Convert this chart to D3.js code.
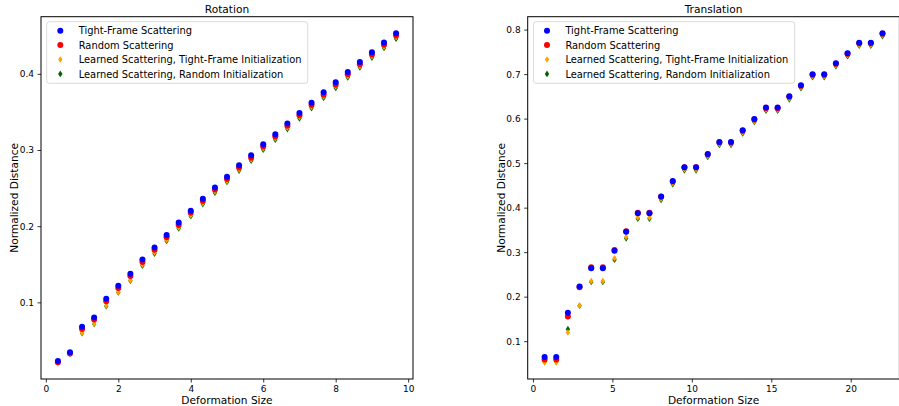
<!DOCTYPE html>
<html>
<head>
<meta charset="utf-8">
<script src="https://cdn.jsdelivr.net/npm/d3@7"></script>
<style>
  body { margin: 0; background: #fff; }
  svg { display: block; font-family: "DejaVu Sans", sans-serif; }
</style>
</head>
<body>
<div id="chart"></div>
<script>
// Rotation panel
const rotX = d3.range(1, 30).map(k => k / 3);
const rotTight = [0.023, 0.0346, 0.068, 0.080, 0.1047, 0.1217, 0.1374, 0.1563, 0.172, 0.1885,
  0.2047, 0.2204, 0.236, 0.2509, 0.265, 0.280, 0.293, 0.3076, 0.3207, 0.3347,
  0.3487, 0.3622, 0.3757, 0.3888, 0.4024, 0.4155, 0.4285, 0.4411, 0.4534];
const rotRandom = [0.0215, 0.033, 0.065, 0.0775, 0.1015, 0.119, 0.1345, 0.153, 0.169, 0.1855,
  0.2015, 0.2175, 0.233, 0.248, 0.262, 0.277, 0.290, 0.3046, 0.3177, 0.3317,
  0.3457, 0.3592, 0.3727, 0.3858, 0.3994, 0.4125, 0.4255, 0.4381, 0.4504];
const rotLearnedTF = [0.0215, 0.033, 0.060, 0.072, 0.0955, 0.1135, 0.129, 0.1495, 0.1655, 0.182,
  0.1985, 0.2145, 0.2305, 0.2455, 0.2595, 0.2745, 0.2875, 0.3022, 0.3153, 0.3293,
  0.3433, 0.3568, 0.3703, 0.3834, 0.397, 0.4101, 0.4231, 0.4357, 0.448];
const rotLearnedRand = [0.021, 0.0325, 0.0595, 0.0715, 0.095, 0.113, 0.1285, 0.148, 0.164, 0.1805,
  0.197, 0.213, 0.229, 0.244, 0.258, 0.273, 0.286, 0.3005, 0.3135, 0.3275,
  0.3415, 0.355, 0.3685, 0.3815, 0.3952, 0.4083, 0.4213, 0.4339, 0.4462];

// Translation panel
const traX = d3.range(1, 31).map(k => k * 22 / 30);
const traTight = [0.0647, 0.0647, 0.1637, 0.223, 0.2637, 0.2637, 0.3034, 0.346, 0.3876, 0.3876,
  0.425, 0.4597, 0.491, 0.491, 0.5205, 0.5475, 0.5475, 0.5736, 0.5993, 0.6248,
  0.6248, 0.6502, 0.675, 0.6998, 0.6998, 0.7245, 0.747, 0.7705, 0.7705, 0.792];
const traRandom = [0.0588, 0.0588, 0.1556, 0.221, 0.266, 0.266, 0.305, 0.347, 0.3885, 0.3885,
  0.4245, 0.459, 0.4905, 0.4905, 0.5195, 0.5465, 0.5465, 0.5725, 0.598, 0.6235,
  0.6235, 0.649, 0.6738, 0.6985, 0.6985, 0.7232, 0.7457, 0.7692, 0.7692, 0.7905];
const traLearnedTF = [0.052, 0.052, 0.1196, 0.1795, 0.235, 0.235, 0.2862, 0.334, 0.3778, 0.3778,
  0.42, 0.455, 0.486, 0.486, 0.516, 0.543, 0.543, 0.569, 0.5945, 0.62,
  0.62, 0.6455, 0.6705, 0.6952, 0.6952, 0.7198, 0.7423, 0.7658, 0.7658, 0.7872];
const traLearnedRand = [0.0535, 0.0535, 0.127, 0.1795, 0.233, 0.233, 0.283, 0.331, 0.375, 0.375,
  0.4175, 0.4528, 0.4838, 0.4838, 0.5138, 0.5408, 0.5408, 0.5668, 0.5923, 0.6178,
  0.6178, 0.6433, 0.6683, 0.693, 0.693, 0.7176, 0.7401, 0.7636, 0.7636, 0.785];

const seriesNames = ['Tight-Frame Scattering', 'Random Scattering',
  'Learned Scattering, Tight-Frame Initialization', 'Learned Scattering, Random Initialization'];
const seriesColors = ['#0000ff', '#ff0000', '#ffa500', '#006400'];
const seriesShapes = ['circle', 'circle', 'diamond', 'diamond'];

const rotXTicks = [0, 2, 4, 6, 8, 10];
const rotYTicks = [0.1, 0.2, 0.3, 0.4];
const traXTicks = [0, 5, 10, 15, 20];
const traYTicks = [0.1, 0.2, 0.3, 0.4, 0.5, 0.6, 0.7, 0.8];

const width = 899;
const height = 406;

const svg = d3.select('#chart')
  .append('svg')
  .attr('width', width)
  .attr('height', height);

function padded(values) {
  const [lo, hi] = d3.extent(values);
  const pad = (hi - lo) * 0.05;
  return [lo - pad, hi + pad];
}

function drawPanel(opts) {
  const { title, xs, ys, xTicks, yTicks, left, right, top, bottom } = opts;

  const x = d3.scaleLinear().domain(padded(xs)).range([left, right]);
  const y = d3.scaleLinear().domain(padded(ys.flat())).range([bottom, top]);

  const g = svg.append('g');

  // axes
  const xAxis = g.append('g')
    .attr('transform', `translate(0,${bottom})`)
    .call(d3.axisBottom(x).tickValues(xTicks).tickSize(3.5).tickPadding(3.5).tickFormat(d3.format('d')));
  const yAxis = g.append('g')
    .attr('transform', `translate(${left},0)`)
    .call(d3.axisLeft(y).tickValues(yTicks).tickSize(3.5).tickPadding(3.5).tickFormat(d3.format('.1f')));
  [xAxis, yAxis].forEach(a => {
    a.select('.domain').remove();
    a.selectAll('text').attr('font-size', 9).attr('font-family', 'DejaVu Sans').attr('fill', '#000');
    a.selectAll('line').attr('stroke', '#000').attr('stroke-width', 0.8);
  });

  // markers, last series first so blue is on top
  const diamond = d3.symbol().type(d3.symbolDiamond).size(14);
  for (let s = ys.length - 1; s >= 0; s--) {
    const pts = xs.map((xv, i) => [xv, ys[s][i]]);
    if (seriesShapes[s] === 'circle') {
      g.append('g').selectAll('circle')
        .data(pts)
        .join('circle')
        .attr('cx', d => x(d[0]))
        .attr('cy', d => y(d[1]))
        .attr('r', 3)
        .attr('fill', seriesColors[s]);
    } else {
      g.append('g').selectAll('path')
        .data(pts)
        .join('path')
        .attr('d', diamond)
        .attr('transform', d => `translate(${x(d[0])},${y(d[1])}) scale(1.1,0.95)`)
        .attr('fill', seriesColors[s]);
    }
  }

  // frame
  g.append('rect')
    .attr('x', left).attr('y', top)
    .attr('width', right - left).attr('height', bottom - top)
    .attr('fill', 'none').attr('stroke', '#000').attr('stroke-width', 1);

  // titles and labels
  g.append('text')
    .attr('x', (left + right) / 2).attr('y', 13)
    .attr('text-anchor', 'middle').attr('font-size', 10.6)
    .text(title);
  g.append('text')
    .attr('x', (left + right) / 2).attr('y', 404)
    .attr('text-anchor', 'middle').attr('font-size', 10.6)
    .text('Deformation Size');
  g.append('text')
    .attr('transform', `translate(${left - 23},${(top + bottom) / 2}) rotate(-90)`)
    .attr('text-anchor', 'middle').attr('font-size', 10.6)
    .text('Normalized Distance');

  // legend
  const lx = left + 5.7;
  const lw = opts.legendWidth;
  const legend = g.append('g');
  legend.append('rect')
    .attr('x', lx).attr('y', 21.7)
    .attr('width', lw).attr('height', 61.6)
    .attr('rx', 2.5)
    .attr('fill', 'rgba(255,255,255,0.8)')
    .attr('stroke', '#d0d0d0').attr('stroke-width', 0.8);
  seriesNames.forEach((name, i) => {
    const cy = 30.7 + i * 14.4;
    if (seriesShapes[i] === 'circle') {
      legend.append('circle').attr('cx', lx + 13.6).attr('cy', cy).attr('r', 3).attr('fill', seriesColors[i]);
    } else {
      legend.append('path').attr('d', diamond)
        .attr('transform', `translate(${lx + 13.6},${cy}) scale(1.1,0.95)`)
        .attr('fill', seriesColors[i]);
    }
    legend.append('text')
      .attr('x', lx + 32).attr('y', cy + 3.6)
      .attr('font-size', 9.9)
      .text(name);
  });
}

drawPanel({
  title: 'Rotation',
  xs: rotX,
  ys: [rotTight, rotRandom, rotLearnedTF, rotLearnedRand],
  xTicks: rotXTicks, yTicks: rotYTicks,
  left: 41, right: 413, top: 16.7, bottom: 379,
  legendWidth: 261
});

drawPanel({
  title: 'Translation',
  xs: traX,
  ys: [traTight, traRandom, traLearnedTF, traLearnedRand],
  xTicks: traXTicks, yTicks: traYTicks,
  left: 527.7, right: 899.4, top: 16.7, bottom: 379,
  legendWidth: 261.3
});
</script>
</body>
</html>
